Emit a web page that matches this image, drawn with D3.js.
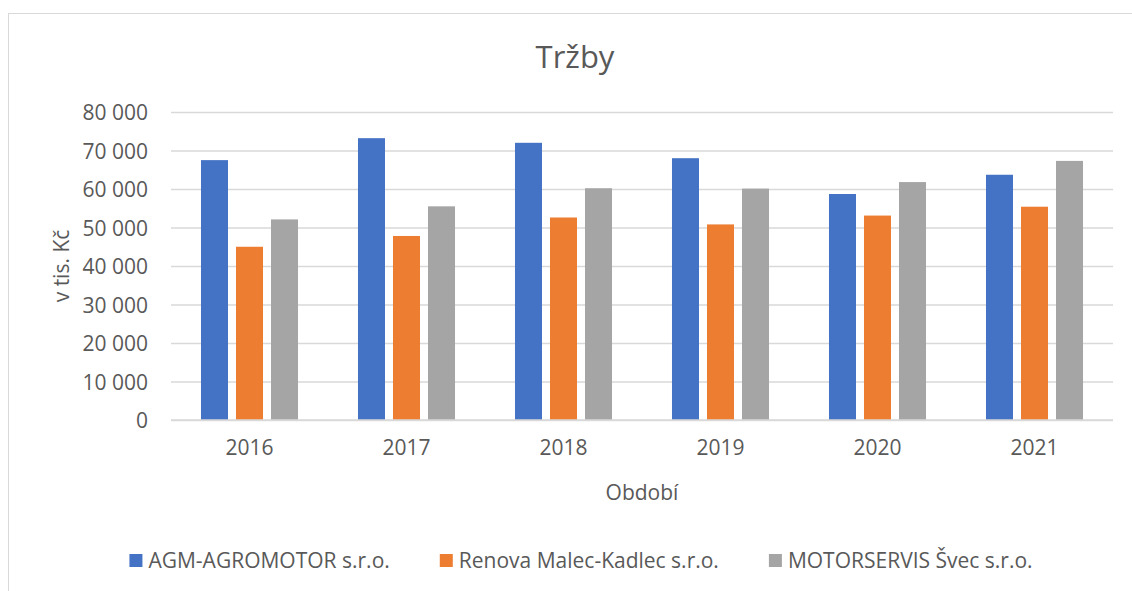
<!DOCTYPE html>
<html>
<head>
<meta charset="utf-8">
<script src="https://cdn.jsdelivr.net/npm/d3@7"></script>
<style>
    body { margin: 0; background: #fff; }
    text { font-family: "Open Sans", sans-serif; fill: #595959; }
</style>
</head>
<body>
<div id="chart"></div>
<script>

// data (v tis. Kč)
let years = ["2016", "2017", "2018", "2019", "2020", "2021"];
let companies = ["AGM-AGROMOTOR s.r.o.", "Renova Malec-Kadlec s.r.o.", "MOTORSERVIS Švec s.r.o."];
let agm = [67500, 73200, 72000, 68000, 58700, 63700];
let renova = [45000, 47800, 52600, 50800, 53100, 55400];
let motorservis = [52100, 55500, 60200, 60100, 61800, 67300];
let yTicks = [0, 10000, 20000, 30000, 40000, 50000, 60000, 70000, 80000];
let colors = ["#4472C4", "#ED7D31", "#A5A5A5"];

let seriesValues = [agm, renova, motorservis];

let width = 1132, height = 591;
let plot = {left: 171, right: 1113, top: 112, bottom: 420};

let svg = d3.select("#chart").append("svg")
    .attr("width", width)
    .attr("height", height);

// chart frame
svg.append("rect")
    .attr("x", 8.5)
    .attr("y", 13.5)
    .attr("width", 1160)
    .attr("height", 600)
    .attr("fill", "white")
    .attr("stroke", "#D9D9D9")
    .attr("stroke-width", 1);

let x0 = d3.scaleBand()
    .domain(years)
    .range([plot.left, plot.right])
    .paddingInner(0.382)
    .paddingOuter(0.191);

let x1 = d3.scaleBand()
    .domain(companies)
    .range([0, x0.bandwidth()])
    .paddingInner(8 / 35)
    .paddingOuter(0);

let y = d3.scaleLinear()
    .domain([0, 80000])
    .range([plot.bottom, plot.top]);

let locale = d3.formatLocale({decimal: ",", thousands: " ", grouping: [3], currency: ["", ""]});
let fmt = locale.format(",");

// gridlines + y labels
let yAxis = d3.axisLeft(y)
    .tickValues(yTicks)
    .tickSize(-(plot.right - plot.left))
    .tickPadding(23)
    .tickFormat(fmt);

let yAxisGroup = svg.append("g")
    .attr("transform", `translate(${plot.left},0)`)
    .call(yAxis);
yAxisGroup.select(".domain").remove();
yAxisGroup.selectAll(".tick line").attr("stroke", "#D9D9D9").attr("stroke-width", 1.3);
yAxisGroup.selectAll(".tick text")
    .style("font-size", "21px")
    .attr("dy", "0.36em");

// x axis
let xAxis = d3.axisBottom(x0).tickSize(0).tickPadding(20);
let xAxisGroup = svg.append("g")
    .attr("transform", `translate(0,${plot.bottom})`)
    .call(xAxis);
xAxisGroup.select(".domain").remove();
xAxisGroup.selectAll(".tick text").style("font-size", "21px");

// bars
let groups = svg.append("g").selectAll("g")
    .data(years)
    .enter().append("g")
    .attr("transform", d => `translate(${x0(d)},0)`);

groups.selectAll("rect")
    .data((d, i) => companies.map((c, j) => ({company: c, value: seriesValues[j][i], color: colors[j]})))
    .enter().append("rect")
    .attr("x", d => x1(d.company))
    .attr("y", d => y(d.value))
    .attr("width", x1.bandwidth())
    .attr("height", d => y(0) - y(d.value))
    .attr("fill", d => d.color);

// baseline
svg.append("line")
    .attr("x1", plot.left).attr("x2", plot.right)
    .attr("y1", y(0)).attr("y2", y(0))
    .attr("stroke", "#D9D9D9")
    .attr("stroke-width", 1.3);

// title
svg.append("text")
    .attr("x", 575)
    .attr("y", 68)
    .attr("text-anchor", "middle")
    .style("font-size", "31px")
    .text("Tržby");

// axis titles
svg.append("text")
    .attr("x", (plot.left + plot.right) / 2)
    .attr("y", 500)
    .attr("text-anchor", "middle")
    .style("font-size", "21px")
    .text("Období");

svg.append("text")
    .attr("transform", `translate(69,${(plot.top + plot.bottom) / 2}) rotate(-90)`)
    .attr("text-anchor", "middle")
    .style("font-size", "21px")
    .text("v tis. Kč");

// legend
let legend = svg.append("g");
let items = legend.selectAll("g")
    .data(companies)
    .enter().append("g");

items.append("rect")
    .attr("y", 554)
    .attr("width", 13)
    .attr("height", 13)
    .attr("fill", (d, i) => colors[i]);

items.append("text")
    .attr("x", 19)
    .attr("y", 567.5)
    .style("font-size", "21px")
    .text(d => d);

let pos = 0;
let offsets = [];
items.each(function () {
    offsets.push(pos);
    pos += 19 + this.querySelector("text").getComputedTextLength() + 50;
});
let total = pos - 50;
let start = 581 - total / 2;
items.attr("transform", (d, i) => `translate(${start + offsets[i]},0)`);

</script>
</body>
</html>
